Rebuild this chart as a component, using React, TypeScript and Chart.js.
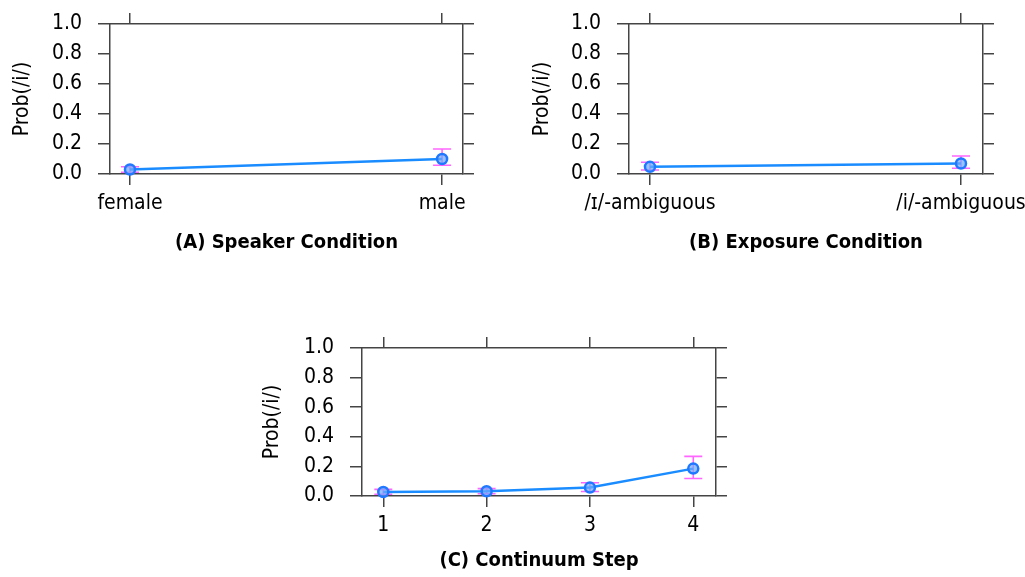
import React, { useEffect, useRef } from "react";
import { Chart, registerables } from "chart.js";
Chart.register(...registerables);

const yTicks = [0, 0.2, 0.4, 0.6, 0.8, 1.0];
const yTitle = "Prob(/i/)";

const speakerCats = ["female", "male"];
const speakerProb = [0.03, 0.1];
const speakerLow = [0.012, 0.058];
const speakerHigh = [0.048, 0.167];

const exposureCats = ["/ɪ/-ambiguous", "/i/-ambiguous"];
const exposureProb = [0.048, 0.07];
const exposureLow = [0.027, 0.038];
const exposureHigh = [0.078, 0.12];

const stepCats = ["1", "2", "3", "4"];
const stepProb = [0.027, 0.032, 0.057, 0.185];
const stepLow = [0.012, 0.015, 0.03, 0.118];
const stepHigh = [0.045, 0.05, 0.09, 0.268];

const FONT = "'DejaVu Sans Condensed', 'DejaVu Sans', sans-serif";
const AXIS_COLOR = "#444";

type PanelProps = {
  left: number; top: number; width: number; height: number;
  area: { l: number; t: number; r: number; b: number };
  xs: number[]; xMin: number; xMax: number;
  cats: string[]; vals: number[]; low: number[]; high: number[];
  title: string; titlePad: number;
};

const errorBars = {
  id: "errorBars",
  beforeDatasetsDraw(chart: any, _a: any, opts: any) {
    const { ctx } = chart;
    const xs = chart.scales.x;
    const ys = chart.scales.y;
    const low: number[] = opts.low || [];
    const high: number[] = opts.high || [];
    const xv: number[] = opts.xs || [];
    ctx.save();
    ctx.strokeStyle = "#ff66ff";
    ctx.lineWidth = 1.6;
    for (let i = 0; i < xv.length; i++) {
      const px = xs.getPixelForValue(xv[i]);
      const p1 = ys.getPixelForValue(low[i]);
      const p2 = ys.getPixelForValue(high[i]);
      ctx.beginPath();
      ctx.moveTo(px, p1); ctx.lineTo(px, p2);
      ctx.moveTo(px - 9, p1); ctx.lineTo(px + 9, p1);
      ctx.moveTo(px - 9, p2); ctx.lineTo(px + 9, p2);
      ctx.stroke();
    }
    ctx.restore();
  },
};

function Panel(p: PanelProps) {
  const ref = useRef<HTMLCanvasElement>(null);
  useEffect(() => {
    const W = p.width, H = p.height, A = p.area;
    const gridBase = {
      drawOnChartArea: false, drawTicks: true, tickLength: 11,
      color: AXIS_COLOR, lineWidth: 1.5,
    };
    const border = { display: true, color: AXIS_COLOR, width: 1.5 };
    const catTicks = (s: any) => { s.ticks = p.xs.map((v) => ({ value: v })); };
    const yTickSet = (s: any) => { s.ticks = yTicks.map((v) => ({ value: v })); };
    const chart = new Chart(ref.current as HTMLCanvasElement, {
      type: "line",
      data: {
        datasets: [{
          data: p.xs.map((x, i) => ({ x, y: p.vals[i] })),
          borderColor: "#1a8cff",
          borderWidth: 2.5,
          pointRadius: 5,
          pointBorderWidth: 2.5,
          pointBorderColor: "#1f78ff",
          pointBackgroundColor: "rgba(110,170,255,0.7)",
          clip: false as any,
          tension: 0,
        }],
      },
      options: {
        animation: false,
        responsive: false,
        devicePixelRatio: 1,
        layout: { padding: 0 },
        plugins: {
          legend: { display: false },
          tooltip: { enabled: false },
          errorBars: { low: p.low, high: p.high, xs: p.xs },
        } as any,
        scales: {
          x: {
            type: "linear", position: "bottom", min: p.xMin, max: p.xMax,
            afterBuildTicks: catTicks,
            afterFit: (s: any) => { s.height = H - A.b; s.paddingLeft = 0; s.paddingRight = 0; },
            grid: gridBase, border,
            ticks: {
              autoSkip: false, maxRotation: 0, minRotation: 0, padding: 6,
              color: "#000", font: { family: FONT, size: 21 },
              callback: (v: any) => { const i = p.xs.indexOf(Number(v)); return i >= 0 ? p.cats[i] : ""; },
            },
            title: {
              display: true, text: p.title, color: "#000",
              font: { family: FONT, size: 20, weight: "bold" },
              padding: { top: 0, bottom: p.titlePad },
            },
          },
          x2: {
            type: "linear", position: "top", min: p.xMin, max: p.xMax,
            afterBuildTicks: catTicks,
            afterFit: (s: any) => { s.height = A.t; s.paddingLeft = 0; s.paddingRight = 0; },
            grid: gridBase, border, ticks: { display: false },
          },
          y: {
            type: "linear", position: "left", min: 0, max: 1,
            afterBuildTicks: yTickSet,
            afterFit: (s: any) => { s.width = A.l; s.paddingTop = 0; s.paddingBottom = 0; },
            grid: { ...gridBase, tickLength: 12 }, border,
            ticks: {
              padding: 16, color: "#000", font: { family: FONT, size: 21 },
              callback: (v: any) => Number(v).toFixed(1),
            },
            title: {
              display: true, text: yTitle, color: "#000",
              font: { family: FONT, size: 21 },
              padding: { top: 10, bottom: 0 },
            },
          },
          y2: {
            type: "linear", position: "right", min: 0, max: 1,
            afterBuildTicks: yTickSet,
            afterFit: (s: any) => { s.width = W - A.r; s.paddingTop = 0; s.paddingBottom = 0; },
            grid: gridBase, border, ticks: { display: false },
          },
        } as any,
      },
      plugins: [errorBars as any],
    });
    return () => chart.destroy();
  }, []);
  return (
    <canvas
      ref={ref}
      width={p.width}
      height={p.height}
      style={{ position: "absolute", left: p.left, top: p.top, width: p.width, height: p.height }}
    />
  );
}

export default function App() {
  return (
    <div style={{ position: "absolute", left: 0, top: 0, width: 1025, height: 577, background: "#fff" }}>
      <Panel
        left={0} top={0} width={490} height={255}
        area={{ l: 110, t: 24, r: 463, b: 174 }}
        xs={[0, 1]} xMin={-0.064} xMax={1.067}
        cats={speakerCats} vals={speakerProb} low={speakerLow} high={speakerHigh}
        title="(A) Speaker Condition" titlePad={0}
      />
      <Panel
        left={520} top={0} width={505} height={255}
        area={{ l: 109, t: 24, r: 463, b: 174 }}
        xs={[0, 1]} xMin={-0.0675} xMax={1.0707}
        cats={exposureCats} vals={exposureProb} low={exposureLow} high={exposureHigh}
        title="(B) Exposure Condition" titlePad={0}
      />
      <Panel
        left={250} top={320} width={500} height={257}
        area={{ l: 112, t: 28, r: 466, b: 176 }}
        xs={[1, 2, 3, 4]} xMin={0.794} xMax={4.22}
        cats={stepCats} vals={stepProb} low={stepLow} high={stepHigh}
        title="(C) Continuum Step" titlePad={4}
      />
    </div>
  );
}
